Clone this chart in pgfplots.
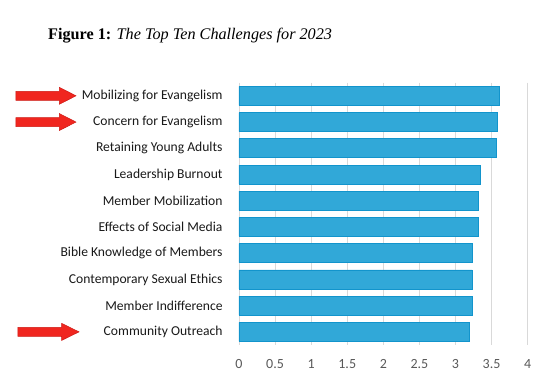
\documentclass[border=0pt]{standalone}
\usepackage{fontspec}
\setmainfont{Carlito}
\newfontfamily\titlefont{Liberation Serif}
\usepackage{pgfplots}
\pgfplotsset{compat=1.18}
\definecolor{barfill}{RGB}{49,168,216}
\definecolor{baredge}{RGB}{18,148,204}
\definecolor{gridc}{RGB}{217,217,217}
\definecolor{tickc}{RGB}{89,89,89}
\definecolor{arrowred}{RGB}{240,38,31}
\definecolor{arrowdark}{RGB}{205,25,20}
\newcommand{\redarrow}[4]{% row, start, shaft end, tip (pt relative to x=0)
  \filldraw[fill=arrowred, draw=arrowdark, line width=0.5pt]
    ([xshift=#2,yshift=-4.5pt]axis cs:0,#1) --
    ([xshift=#3,yshift=-4.5pt]axis cs:0,#1) --
    ([xshift=#3,yshift=-8.5pt]axis cs:0,#1) --
    ([xshift=#4]axis cs:0,#1) --
    ([xshift=#3,yshift=8.5pt]axis cs:0,#1) --
    ([xshift=#3,yshift=4.5pt]axis cs:0,#1) --
    ([xshift=#2,yshift=4.5pt]axis cs:0,#1) -- cycle;}
\begin{document}
\begin{tikzpicture}
\path (0pt,0pt) rectangle (550pt,390pt);
\node[anchor=base west, inner sep=0pt, font=\titlefont\fontsize{16.2}{19}\selectfont] at (48pt,350pt)
  {\textbf{Figure 1:} \textit{The Top Ten Challenges for 2023}};
\begin{axis}[
  at={(239pt,45pt)}, anchor=south west,
  scale only axis, width=288.7pt, height=262.3pt,
  xbar, bar width=19pt,
  xmin=0, xmax=4, ymin=0.5, ymax=10.5, y dir=reverse,
  xtick={0,0.5,...,4},
  ytick={1,...,10},
  yticklabels={Mobilizing for Evangelism,Concern for Evangelism,Retaining Young Adults,Leadership Burnout,Member Mobilization,Effects of Social Media,Bible Knowledge of Members,Contemporary Sexual Ethics,Member Indifference,Community Outreach},
  axis line style={draw=none},
  major tick style={draw=none},
  xmajorgrids, grid style={gridc, line width=0.8pt},
  /pgf/number format/assume math mode=true,
  xticklabel style={font=\fontsize{14}{16}\selectfont, text=tickc, inner sep=0pt, yshift=-14pt},
  yticklabel style={font=\fontsize{13.6}{16}\selectfont, text=black!90, inner sep=0pt, xshift=-12pt},
  clip=false,
]
\addplot[fill=barfill, draw=baredge, line width=0.7pt] coordinates {
(3.61,1) (3.58,2) (3.56,3) (3.34,4) (3.32,5) (3.31,6) (3.23,7) (3.23,8) (3.23,9) (3.19,10)};
\redarrow{1}{-223pt}{-179.7pt}{-163pt}
\redarrow{2}{-223pt}{-179.7pt}{-163pt}
\redarrow{10}{-221pt}{-177.3pt}{-160pt}
\end{axis}
\end{tikzpicture}
\end{document}
